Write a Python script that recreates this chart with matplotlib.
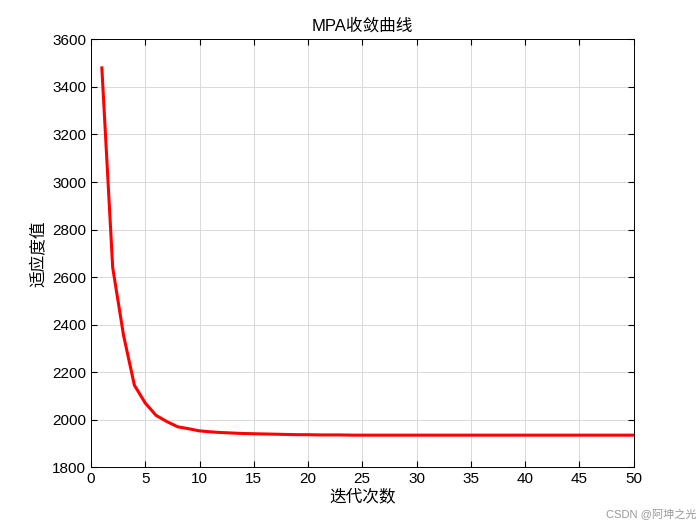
import matplotlib
matplotlib.use("Agg")
import matplotlib.pyplot as plt

plt.rcParams['font.family'] = ['Liberation Sans', 'Noto Sans CJK SC', 'DejaVu Sans']

iters = list(range(1, 51))
fitness = [3480, 2640, 2355, 2145, 2070, 2018, 1992, 1970, 1962, 1953,
           1949, 1946, 1944, 1942, 1941, 1940, 1939, 1938, 1937, 1937,
           1936, 1936, 1936, 1935, 1935, 1935, 1935, 1935, 1935, 1935,
           1935, 1935, 1935, 1935, 1935, 1935, 1935, 1935, 1935, 1935,
           1935, 1935, 1935, 1935, 1935, 1935, 1935, 1935, 1935, 1935]
xticks = list(range(0, 51, 5))
yticks = list(range(1800, 3601, 200))

fig = plt.figure(figsize=(7, 5.25), dpi=100)
ax = fig.add_axes([0.13, 0.11, 0.775, 0.815])
ax.plot(iters, fitness, color='#ff0000', linewidth=2.2)
ax.set_xlim(0, 50)
ax.set_ylim(1800, 3600)
ax.set_xticks(xticks)
ax.set_yticks(yticks)
ax.grid(True, color='#d9d9d9', linewidth=0.7)
ax.tick_params(direction='in', top=True, right=True, labelsize=11, length=4)
for s in ax.spines.values():
    s.set_linewidth(0.7)
ax.set_title('MPA收敛曲线', fontsize=12)
ax.set_xlabel('迭代次数', fontsize=12, labelpad=2)
ax.set_ylabel('适应度值', fontsize=12)
fig.text(0.995, 0.01, 'CSDN @阿坤之光', ha='right', va='bottom', fontsize=8, color='#999999')
fig.savefig('out.png')
